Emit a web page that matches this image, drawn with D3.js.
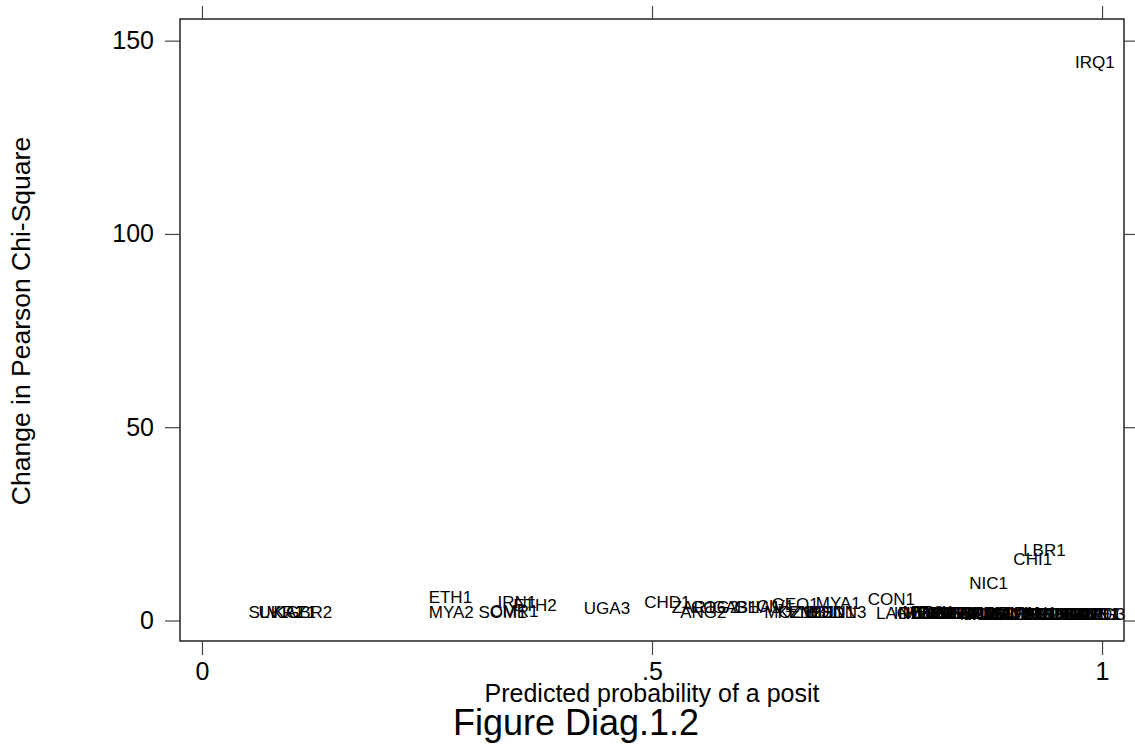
<!DOCTYPE html>
<html>
<head>
<meta charset="utf-8">
<script src="https://cdn.jsdelivr.net/npm/d3@7"></script>
<style>
  body { margin: 0; background: #fff; }
  svg { display: block; font-family: Arial, "Liberation Sans", sans-serif; }
</style>
</head>
<body>
<div id="chart"></div>
<script>
// marker labels (country + spell), predicted probability, change in Pearson chi-square
var labels = ["SLV1","UKR1","KAZ1","GBR2","ETH1","MYA2","SOM1","CMR1","IRN1","ETH2","UGA3",
  "CHD1","ZAR1","ANG2","COG2","GAB1","GHA1","CIV1","GEO1","MOZ1","KEN2","ZMB1","BDI1","BEN1",
  "SDN3","MYA1","CON1","LAO1","IND1","RWA1","NIC1","KOR1","TUR1","USA1","GBR1","FRA1","DEU1",
  "ESP1","ITA1","JPN1","CHI1","AUS1","LBR1","CAN1","NLD1","BEL1","SWE1","NOR1","DNK1","FIN1",
  "AUT1","CHE1","PRT1","GRC1","ISR1","IRL1","NZL1","POL1","IRQ1","HUN1","CZE1","ARG3",
  "MEX1","BRA1","PER1","COL1","VEN1","ECU1","BOL1","PRY1","URY1","CRI1","PAN1","HND1",
  "GTM1","DOM1","JAM1","TTO1"];
var prob = [0.074,0.088,0.103,0.119,0.276,0.277,0.334,0.347,0.350,0.370,0.450,
  0.517,0.546,0.557,0.570,0.592,0.617,0.637,0.659,0.651,0.664,0.678,0.692,0.701,
  0.713,0.707,0.766,0.773,0.790,0.800,0.874,0.808,0.816,0.824,0.831,0.839,0.846,
  0.854,0.861,0.869,0.923,0.877,0.936,0.884,0.892,0.900,0.907,0.915,0.922,0.930,
  0.937,0.945,0.952,0.960,0.967,0.974,0.981,0.987,0.992,0.993,0.996,1.000,
  0.804,0.812,0.820,0.835,0.843,0.858,0.866,0.881,0.896,0.911,0.926,0.941,
  0.956,0.971,0.984,0.998];
var dx2 = [0.65,0.65,0.65,0.65,4.5,0.65,0.65,0.9,3.2,2.5,1.7,
  3.2,1.9,0.65,1.9,1.9,1.9,2.2,2.7,0.65,0.65,0.65,0.65,0.65,
  0.65,3.0,4.0,0.4,0.45,0.4,8.1,0.4,0.35,0.35,0.3,0.3,0.3,
  0.3,0.25,0.25,14.4,0.25,16.7,0.2,0.2,0.2,0.2,0.15,0.15,0.15,
  0.15,0.1,0.1,0.1,0.1,0.1,0.05,0.05,143,0.05,0.05,0.02,
  0.6,0.55,0.5,0.45,0.45,0.4,0.4,0.35,0.35,0.3,0.3,0.25,
  0.2,0.2,0.15,0.1];
var xTicks = [0, 0.5, 1];
var yTicks = [0, 50, 100, 150];

var W = 1135, H = 750;
var svg = d3.select("#chart").append("svg").attr("width", W).attr("height", H);

var x = d3.scaleLinear().domain([-0.0244, 1.0244]).range([180, 1124]);
var y = d3.scaleLinear().domain([-5.3, 155.6]).range([641, 19]);

// plot region frame
svg.append("rect")
  .attr("x", 180).attr("y", 19).attr("width", 944).attr("height", 622)
  .attr("fill", "none").attr("stroke", "#000").attr("stroke-width", 1.3);

var fmtX = function (d) { return d === 0 ? "0" : d === 1 ? "1" : String(d).replace(/^0/, ""); };

var axBottom = svg.append("g").attr("transform", "translate(0,641)")
  .call(d3.axisBottom(x).tickValues(xTicks).tickSize(14).tickPadding(7).tickFormat(fmtX));
var axTop = svg.append("g").attr("transform", "translate(0,19)")
  .call(d3.axisTop(x).tickValues(xTicks).tickSize(13).tickFormat(""));
var axLeft = svg.append("g").attr("transform", "translate(180,0)")
  .call(d3.axisLeft(y).tickValues(yTicks).tickSize(15).tickPadding(11));
var axRight = svg.append("g").attr("transform", "translate(1124,0)")
  .call(d3.axisRight(y).tickValues(yTicks).tickSize(11).tickFormat(""));

[axBottom, axTop, axLeft, axRight].forEach(function (g) {
  g.select(".domain").remove();
  g.selectAll(".tick line").attr("stroke", "#444").attr("stroke-width", 1.2);
  g.selectAll(".tick text").attr("fill", "#000")
    .style("font-size", "25px").style("font-family", "Arial, 'Liberation Sans', sans-serif");
});

// marker labels only, no symbols
svg.append("g").selectAll("text").data(labels).join("text")
  .attr("x", function (d, i) { return x(prob[i]); })
  .attr("y", function (d, i) { return y(dx2[i]); })
  .attr("text-anchor", "middle")
  .attr("font-size", 17)
  .attr("fill", "#000")
  .text(function (d) { return d; });

svg.append("text")
  .attr("x", 652).attr("y", 702)
  .attr("text-anchor", "middle").attr("font-size", 25)
  .text("Predicted probability of a posit");

svg.append("text")
  .attr("transform", "translate(30,321) rotate(-90)")
  .attr("text-anchor", "middle").attr("font-size", 26.5)
  .text("Change in Pearson Chi-Square");

svg.append("text")
  .attr("x", 576).attr("y", 735)
  .attr("text-anchor", "middle").attr("font-size", 36)
  .text("Figure Diag.1.2");
</script>
</body>
</html>
